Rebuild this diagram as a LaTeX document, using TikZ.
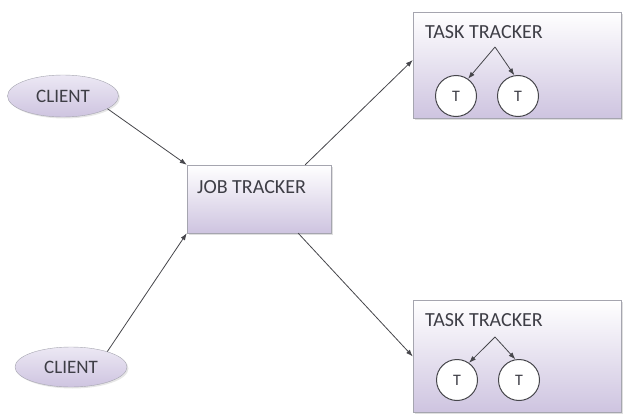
\documentclass[tikz,border=0pt]{standalone}
\usepackage{fontspec}
\setmainfont{Carlito}
\usetikzlibrary{shapes.geometric,shadows,arrows.meta}
\definecolor{lav}{RGB}{206,196,224}
\definecolor{lavtop}{RGB}{236,232,244}
\definecolor{edge}{RGB}{165,165,175}
\definecolor{txtc}{RGB}{62,62,70}
\definecolor{linec}{RGB}{70,70,75}
\tikzset{
  panel/.style={rectangle, draw=edge, top color=white, bottom color=lav, inner sep=0pt,
    drop shadow={opacity=0.25, shadow xshift=1.5pt, shadow yshift=-1.5pt}},
  cli/.style={ellipse, draw=edge, top color=lavtop, bottom color=lav, inner sep=0pt,
    text=txtc, font=\fontsize{19}{21}\selectfont,
    drop shadow={opacity=0.2, shadow xshift=1.5pt, shadow yshift=-1.5pt}},
  tnode/.style={circle, draw=linec, line width=1pt, fill=white, minimum size=41pt, inner sep=0pt,
    text=txtc, font=\fontsize{16}{18}\selectfont},
  lbl/.style={anchor=west, inner sep=0pt, text=txtc, font=\fontsize{20}{22}\selectfont},
  conn/.style={draw=linec, line width=0.8pt, -{Latex[length=7pt,width=5pt]}},
}
\begin{document}
\begin{tikzpicture}[x=1pt,y=-1pt]
\useasboundingbox (0,0) rectangle (624,415);
% clients
\node[cli, minimum width=111pt, minimum height=42pt] (client1) at (63,96) {CLIENT};
\node[cli, minimum width=112pt, minimum height=40pt] (client2) at (71,367) {CLIENT};
% job tracker
\node[panel, minimum width=144pt, minimum height=68pt] (job) at (259,199) {};
\node[lbl] (joblbl) at (197,187) {JOB TRACKER};
% task trackers
\node[panel, minimum width=208pt, minimum height=106pt] (tt1) at (517,65) {};
\node[lbl] (tt1lbl) at (425,32) {TASK TRACKER};
\node[panel, minimum width=208pt, minimum height=112pt] (tt2) at (517,356.5) {};
\node[lbl] (tt2lbl) at (425,320) {TASK TRACKER};
% task nodes
\coordinate (a1) at (495,47);
\node[tnode] (t11) at (456,96) {T};
\node[tnode] (t12) at (518,96) {T};
\coordinate (a2) at (495,337);
\node[tnode] (t21) at (457,380) {T};
\node[tnode] (t22) at (519,380) {T};
\draw[conn] (a1) -- (t11.55);
\draw[conn] (a1) -- (t12.100);
\draw[conn] (a2) -- (t21.55);
\draw[conn] (a2) -- (t22.100);
% main connectors
\draw[conn] (client1.-16) -- (job.north west);
\draw[conn] (client2.23) -- (job.south west);
\draw[conn] ([xshift=-26pt]job.north east) -- ([yshift=5pt]tt1.west);
\draw[conn] ([xshift=-33pt]job.south east) -- (tt2.west);
\end{tikzpicture}
\end{document}
